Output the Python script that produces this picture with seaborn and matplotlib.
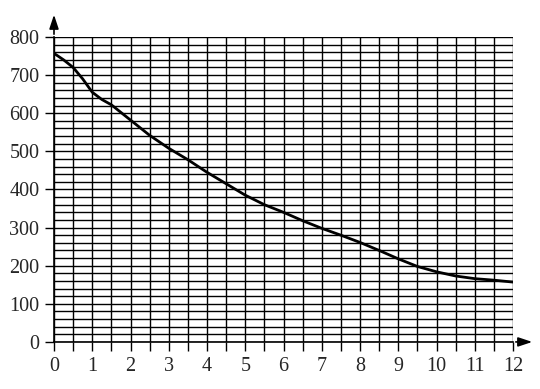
import matplotlib
matplotlib.use("Agg")
import matplotlib.pyplot as plt
import seaborn as sns
import numpy as np
import pandas as pd
from matplotlib.ticker import MultipleLocator

# data
x_vals = [0, 0.25, 0.5, 0.75, 1, 1.25, 1.5, 2, 2.5, 3, 3.5, 4, 4.5, 5, 5.5, 6, 6.5, 7, 7.5, 8, 8.5, 9, 9.5, 10, 10.5, 11, 11.5, 12]
y_vals = [757, 740, 720, 690, 655, 636, 622, 582, 542, 508, 478, 445, 415, 385, 360, 340, 318, 298, 280, 261, 240, 218, 198, 184, 173, 166, 162, 157]
x_ticks = list(range(0, 13))
y_ticks = list(range(0, 801, 100))

sns.set_theme(style="white")
plt.rcParams['font.family'] = ['Liberation Serif', 'DejaVu Serif']

fig = plt.figure(figsize=(5.4, 3.89), dpi=100)
ax = fig.add_axes([0.1, 0.121, 0.85, 0.784])

df = pd.DataFrame({"x": x_vals, "y": y_vals})

ax.set_xlim(0, 12)
ax.set_ylim(0, 800)
ax.xaxis.set_major_locator(MultipleLocator(1))
ax.xaxis.set_minor_locator(MultipleLocator(0.5))
ax.yaxis.set_major_locator(MultipleLocator(100))
ax.yaxis.set_minor_locator(MultipleLocator(20))
ax.set_xticks(x_ticks)
ax.set_yticks(y_ticks)
ax.grid(True, which="both", color="black", linewidth=1.0)
ax.set_axisbelow(True)

sns.lineplot(data=df, x="x", y="y", ax=ax, color="black", linewidth=2.0)

ax.tick_params(axis="x", which="both", direction="out", length=6.5, width=1.0, color="black",
               labelsize=14.5, pad=4, bottom=True)
ax.tick_params(axis="y", which="major", direction="out", length=6.5, width=1.0, color="black",
               labelsize=14.5, pad=4, left=True)
ax.tick_params(axis="y", which="minor", length=0)
ax.set_xlabel("")
ax.set_ylabel("")

for s in ["top", "right"]:
    ax.spines[s].set_visible(False)
for s in ["left", "bottom"]:
    ax.spines[s].set_color("black")
    ax.spines[s].set_linewidth(1.2)

# axis arrows
ax.annotate("", xy=(1.0 + 22 / 459, 0), xycoords="axes fraction",
            xytext=(1.0, 0), textcoords="axes fraction",
            arrowprops=dict(arrowstyle="-|>,head_length=0.6,head_width=0.2", color="black", lw=1.2, mutation_scale=14),
            annotation_clip=False)
ax.annotate("", xy=(0, 1.0 + 25 / 305), xycoords="axes fraction",
            xytext=(0, 1.0), textcoords="axes fraction",
            arrowprops=dict(arrowstyle="-|>,head_length=0.6,head_width=0.2", color="black", lw=1.2, mutation_scale=14),
            annotation_clip=False)

fig.savefig("out.png", dpi=100, facecolor="white")
